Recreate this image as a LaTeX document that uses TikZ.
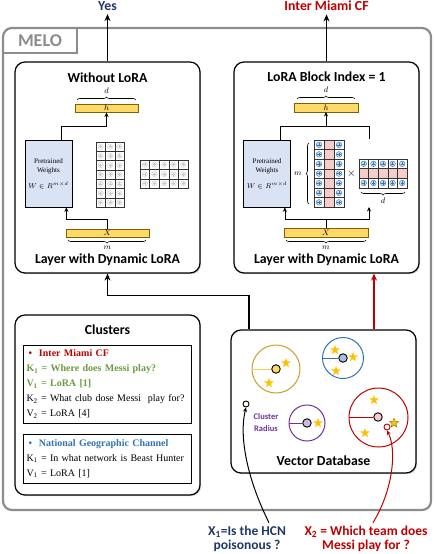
\documentclass[tikz,border=0pt]{standalone}
\usepackage{fontspec}
\setmainfont{Liberation Serif}
\setsansfont{Carlito}
\usepackage{amsmath}
\usepackage{tikz}
\usetikzlibrary{calc,positioning,shapes.geometric,shadows,decorations.pathreplacing,arrows.meta}
\tikzset{>=stealth}

\definecolor{melogray}{HTML}{8C8C8C}
\definecolor{yesblue}{HTML}{203864}
\definecolor{miamired}{HTML}{C00000}
\definecolor{barfill}{HTML}{FFD966}
\definecolor{barline}{HTML}{7F6000}
\definecolor{wfill}{HTML}{DAE3F3}
\definecolor{lorapink}{HTML}{F4CCCC}
\definecolor{keygreen}{HTML}{6A9B3D}
\definecolor{ngblue}{HTML}{2E75B6}
\definecolor{goldring}{HTML}{CC9F2A}
\definecolor{purplering}{HTML}{7030A0}
\definecolor{starcol}{HTML}{FFC000}

\tikzset{
  panel/.style={draw, line width=1.2pt, rounded corners=10pt, fill=white,
    drop shadow={opacity=0.35,shadow xshift=1.2pt,shadow yshift=-1.2pt}},
  title/.style={font=\sffamily\bfseries\fontsize{13.8}{15}\selectfont},
  bar/.style={draw=barline, fill=barfill, line width=0.5pt, minimum height=8.5pt,
    inner sep=0pt, font=\fontsize{8}{8}\selectfont},
  wbox/.style={draw, fill=wfill, line width=0.7pt, minimum width=45pt, minimum height=67pt,
    align=center, font=\fontsize{7}{9}\selectfont},
  flow/.style={-{Stealth[length=4.5pt,width=4pt]}, line width=0.7pt},
  bigflow/.style={-{Stealth[length=7pt,width=6pt]}, line width=1.2pt},
  wire/.style={line width=0.7pt},
  lbrace/.style={decorate, decoration={brace, amplitude=3pt}, line width=0.6pt},
  dim/.style={font=\fontsize{8}{8}\selectfont},
  cell/.style={draw=black!80, line width=0.5pt},
  dot/.style={circle, draw, line width=0.9pt, minimum size=8.5pt, inner sep=0pt},
  starmark/.style={star, star points=5, star point ratio=2.4, fill=starcol, inner sep=0pt, minimum size=10pt},
  qmark/.style={circle, draw, line width=0.9pt, minimum size=6pt, inner sep=0pt, fill=white},
  clbox/.style={draw, line width=1pt, minimum width=168pt, text width=161pt, align=left,
    font=\fontsize{10}{15}\selectfont},
  query/.style={font=\sffamily\bfseries\fontsize{13.5}{14}\selectfont, align=center},
  grayplus/.pic={\draw[gray!35, fill=gray!8, line width=0.4pt] (0,0) circle (2.6);
    \draw[gray!45, line width=0.5pt] (-1.5,0) -- (1.5,0) (0,-1.5) -- (0,1.5);},
  blueplus/.pic={\draw[ngblue, fill=ngblue!25, line width=0.4pt] (0,0) circle (2.8);
    \draw[ngblue, line width=0.6pt] (-1.6,0) -- (1.6,0) (0,-1.6) -- (0,1.6);}
}

\begin{document}
\begin{tikzpicture}[x=1pt,y=-1pt]
\useasboundingbox (0,0) rectangle (436,554);

% MELO frame
\draw[melogray, line width=2.2pt, rounded corners=9pt] (3,510) rectangle (431,28);
\draw[melogray, line width=2pt] (3,53) -| (77,28);
\node[text=melogray, font=\sffamily\bfseries\fontsize{18}{18}\selectfont] (melo) at (40,41) {MELO};

% panels
\node[panel, minimum width=185pt, minimum height=211pt] (plain) at (107.5,167.5) {};
\node[panel, minimum width=185pt, minimum height=211pt] (lora) at (326.5,167.5) {};
\node[panel, minimum width=185pt, minimum height=180pt] (clusters) at (107.5,405) {};
\node[panel, minimum width=185pt, minimum height=143pt] (vdb) at (323.5,401.5) {};

\node[title] (plaintitle) at (107.5,78) {Without LoRA};
\node[title] (plainfoot) at (107.5,260) {Layer with Dynamic LoRA};
\node[title] (loratitle) at (326.5,77) {LoRA Block Index = 1};
\node[title] (lorafoot) at (326.5,260) {Layer with Dynamic LoRA};

% outputs
\node[title, text=yesblue] (yes) at (107.5,6) {Yes};
\node[title, text=miamired] (miami) at (326.5,6) {Inter Miami CF};
\draw[bigflow] (plain.north) -- (yes.south);
\draw[bigflow] (lora.north) -- (miami.south);

% layer without LoRA
\node[bar, minimum width=63pt] (h1) at (106.5,108) {$h$};
\draw[lbrace] (77,100) -- (136,100);
\node[dim] (d1) at (106.5,91) {$d$};
\node[wbox] (w1) at (48.5,173.5) {Pretrained\\Weights\\[7pt]$W\in R^{m\times d}$};
\node[bar, minimum width=83pt] (x1) at (107.5,233) {$X$};
\draw[lbrace] (146,240) -- (68,240);
\node[dim] (m1) at (107.5,248) {$m$};
\draw[flow] (x1.north) -- ++(0,-9) -| ([xshift=-6pt]w1.south east);
\draw[flow] ([xshift=-11pt]w1.north east) -- ++(0,-13) -| (h1.south);
\foreach \i in {0,1,2}
  \foreach \j in {0,...,6}{
    \draw[cell] (96+\i*9.4,142+\j*9.3) rectangle ++(9.4,9.3);
    \pic at (100.7+\i*9.4,146.65+\j*9.3) {grayplus};
  }
\foreach \i in {0,...,4}
  \foreach \j in {0,1,2}{
    \draw[cell] (140+\i*9.6,160+\j*9.4) rectangle ++(9.6,9.4);
    \pic at (144.8+\i*9.6,164.7+\j*9.4) {grayplus};
  }

% layer with LoRA block 1
\node[bar, minimum width=64pt] (h2) at (326,107.5) {$h$};
\draw[lbrace] (297,99) -- (355,99);
\node[dim] (d2) at (326,90) {$d$};
\node[wbox, minimum width=46pt] (w2) at (267,173.5) {Pretrained\\Weights\\[7pt]$W\in R^{m\times d}$};
\coordinate (topjoin) at (369,126);
\coordinate (bout) at (369,139);
\draw[wire] ([xshift=-11pt]w2.north east) |- (topjoin) -- (bout);
\draw[flow] (h2.south |- topjoin) -- (h2.south);
\fill[lorapink] (324,140) rectangle ++(10,67.2);
\foreach \i in {0,1,2}
  \foreach \j in {0,...,6}
    \draw[cell] (314+\i*10,140+\j*9.6) rectangle ++(10,9.6);
\foreach \i in {0,2}
  \foreach \j in {0,...,6}
    \pic at (319+\i*10,144.8+\j*9.6) {blueplus};
\draw[lbrace] (309,204) -- (309,143);
\node[dim] (m2a) at (298,174) {$m$};
\node[font=\fontsize{11}{11}\selectfont] (times) at (351.5,174) {$\times$};
\fill[lorapink] (359,168.6) rectangle ++(48,9.6);
\foreach \i in {0,...,4}
  \foreach \j in {0,1,2}
    \draw[cell] (359+\i*9.6,159+\j*9.6) rectangle ++(9.6,9.6);
\foreach \i in {0,...,4}
  \foreach \j in {0,2}
    \pic at (363.8+\i*9.6,163.8+\j*9.6) {blueplus};
\draw[lbrace] (405,192) -- (361,192);
\node[dim] (d2b) at (383,201) {$d$};
\node[bar, minimum width=84pt] (x2) at (326,232.5) {$X$};
\draw[lbrace] (366,240) -- (286,240);
\node[dim] (m2) at (326,248) {$m$};
\coordinate (bin) at (369,207);
\draw[wire] (x2.north) -- ++(0,-9) coordinate (split);
\draw[flow] (split) -| ([xshift=-6pt]w2.south east);
\draw[flow] (split) -| (bin);

% database to layers
\draw[bigflow] ([xshift=-74.5pt]vdb.north) -- ++(0,-34) -| (plain.south);
\coordinate (dbup) at ([xshift=50.5pt]vdb.north);
\draw[bigflow, miamired] (dbup) -- (dbup |- lora.south);

% clusters
\node[title] (cltitle) at (107.5,330) {Clusters};
\node[clbox, minimum height=78pt] (miamicl) at (107,384) {%
  {\color{miamired}\bfseries\hspace*{2pt}\textbullet\hspace{7pt}Inter Miami CF}\\
  {\color{keygreen}\bfseries K\textsubscript{1} = Where does Messi play?}\\
  {\color{keygreen}\bfseries V\textsubscript{1} = LoRA [1]}\\
  K\textsubscript{2} = What club dose Messi\ \ play for?\\
  V\textsubscript{2} = LoRA [4]};
\node[clbox, minimum height=49pt] (ngcl) at (107,458.5) {%
  {\color{ngblue}\bfseries\hspace*{2pt}\textbullet\hspace{7pt}National Geographic Channel}\\
  K\textsubscript{1} = In what network is Beast Hunter\\
  V\textsubscript{1} = LoRA [1]};

% vector database
\node[title] (vdbtitle) at (323.5,461) {Vector Database};
\draw[goldring, line width=1pt] (276,369) circle (24);
\node[dot, fill=barfill] (golddot) at (276,369) {};
\draw[barfill!80!goldring, line width=1pt] (252,369) -- (golddot.west);
\node[starmark] (gs1) at (286,363) {};
\node[starmark] (gs2) at (269,383) {};
\draw[ngblue, line width=1pt] (343,358) circle (20.5);
\node[dot, fill=ngblue!45] (bluedot) at (343,358) {};
\draw[ngblue, line width=1pt] (322.5,358) -- (bluedot.west);
\node[starmark] (bs1) at (335,350) {};
\node[starmark] (bs2) at (353,357) {};
\node[starmark] (bs3) at (336,371) {};
\draw[purplering, line width=1pt] (307,423) circle (18);
\node[dot, fill=purplering!35] (purpledot) at (307,423) {};
\draw[purplering, line width=1pt] (289,423) -- (purpledot.west);
\node[starmark] (ps1) at (318,423) {};
\node[text=purplering, font=\sffamily\bfseries\fontsize{8.5}{12}\selectfont, align=center] (radius) at (266,423) {Cluster\\Radius};
\draw[miamired, line width=1pt] (378.5,417.5) circle (29.5);
\node[dot, fill=lorapink] (reddot) at (378,417) {};
\draw[miamired, line width=1pt] (349,417) -- (reddot.west);
\node[starmark] (rs1) at (374,400) {};
\node[starmark] (rs2) at (365,433) {};
\node[starmark, draw=barline, line width=0.3pt] (rs3) at (394,423) {};

% queries
\node[qmark] (q1) at (246,404) {};
\node[qmark, draw=miamired] (q2) at (387,427) {};
\node[query, text=yesblue] (q1lab) at (247,539) {X\textsubscript{1}=Is the HCN\\poisonous ?};
\node[query, text=miamired] (q2lab) at (366,539) {X\textsubscript{2} = Which team does\\Messi play for ?};
\draw[flow, line width=1pt] ([xshift=22pt]q1lab.north) .. controls (250,485) and (238,440) .. (q1.south);
\draw[flow, line width=1pt, miamired] ([xshift=7pt]q2lab.north) .. controls (393,490) and (397,450) .. (q2.south);
\end{tikzpicture}
\end{document}
